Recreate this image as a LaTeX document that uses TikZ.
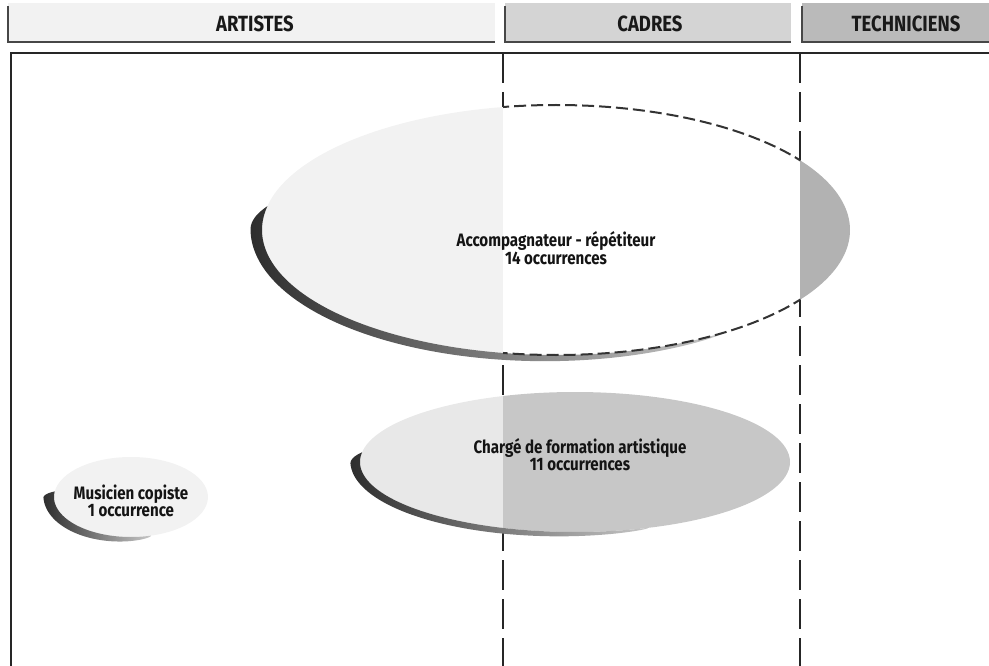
\documentclass[tikz,border=0pt]{standalone}
\usepackage{fontspec}
\newfontfamily\lblfont{Fira Sans}[FakeStretch=0.84]
% crescent shadow along the lower-left rim of an ellipse
% #1,#2 centre; #3,#4 radii; #5 max thickness; #6 start angle; #7 end angle
\newcommand\drawcrescent[7]{%
  \shade[left color=black!82, right color=black!22]
    plot[domain=0:1, samples=120, variable=\s]
      ({#1+(#3+crw(\s,#5))*cos(#6+(#7-#6)*\s)},
       {#2+(#4+crw(\s,#5))*sin(#6+(#7-#6)*\s)})
    -- plot[domain=0:1, samples=120, variable=\s]
      ({#1+#3*cos(#7+(#6-#7)*\s)},
       {#2+#4*sin(#7+(#6-#7)*\s)})
    -- cycle;}
\begin{document}
\begin{tikzpicture}[x=1pt,y=-1pt,
  declare function={crw(\s,\W)=\W*sin(90*min(1,\s/0.08))*sqrt(max(0,1-\s));},
  hdrtext/.style={font=\lblfont\bfseries\fontsize{22}{22}\selectfont, text=black!90, inner sep=0pt},
  elltext/.style={font=\lblfont\bfseries\fontsize{18}{16}\selectfont, align=center, text=black!92, inner sep=0pt},
  hdrrule/.style={line width=2.6pt, draw=black!72},
  colrule/.style={line width=1.3pt, draw=black!85, dash pattern=on 30pt off 9pt},
  frame/.style={line width=1.4pt, draw=black!85},
  ovaldash/.style={line width=2pt, draw=black!80, dash pattern=on 12pt off 5pt}
]
\useasboundingbox (0,0) rectangle (989,666);

% ---- column headers ----
\fill[black!5]  (8,3)   rectangle (495,42);
\fill[black!17] (505,3) rectangle (791,42);
\fill[black!27] (802,3) rectangle (989,42);
\draw[hdrrule] (8,6)   -- (8,42)   -- (495,42);
\draw[hdrrule] (505,6) -- (505,42) -- (791,42);
\draw[hdrrule] (802,6) -- (802,42) -- (989,42);
\node[hdrtext] (artistes)    at (255,24) {ARTISTES};
\node[hdrtext] (cadres)      at (650,24) {CADRES};
\node[hdrtext] (techniciens) at (906,24) {TECHNICIENS};

% ---- frame and column separators ----
\draw[frame] (11,666) -- (11,53) -- (989,53);
\coordinate (sepAtop) at (503,53);
\coordinate (sepAbot) at (503,666);
\coordinate (sepBtop) at (800,53);
\coordinate (sepBbot) at (800,666);
\draw[colrule] (sepAtop) -- (sepAbot);
\draw[colrule] (sepBtop) -- (sepBbot);

% ---- Accompagnateur - repetiteur ----
\begin{scope}
  \clip (0,0) rectangle (503,666);
  \fill[black!5] (556,230) ellipse [x radius=294, y radius=125];
\end{scope}
\begin{scope}
  \clip (503,0) rectangle (800,666);
  \fill[white] (556,230) ellipse [x radius=294, y radius=125];
\end{scope}
\begin{scope}
  \clip (800,0) rectangle (989,666);
  \fill[black!30] (556,230) ellipse [x radius=294, y radius=125];
\end{scope}
\drawcrescent{556}{230}{294}{125}{12}{191}{55}
\begin{scope}
  \clip (503,0) rectangle (800,666);
  \draw[ovaldash] (556,230) ellipse [x radius=294, y radius=125];
\end{scope}
\node[elltext] (accomp) at (556,248) {Accompagnateur - répétiteur\\14 occurrences};

% ---- Charge de formation artistique ----
\begin{scope}
  \clip (0,0) rectangle (503,666);
  \fill[black!9] (575,462) ellipse [x radius=215, y radius=70];
\end{scope}
\begin{scope}
  \clip (503,0) rectangle (989,666);
  \fill[black!22] (575,462) ellipse [x radius=215, y radius=70];
\end{scope}
\drawcrescent{575}{462}{215}{70}{10}{188}{70}
\node[elltext] (charge) at (580,455) {Chargé de formation artistique\\11 occurrences};

% ---- Musicien copiste ----
\fill[black!5] (131,497) ellipse [x radius=77, y radius=40];
\drawcrescent{131}{497}{77}{40}{11}{188}{75}
\node[elltext] (musicien) at (131,501) {Musicien copiste\\1 occurrence};
\end{tikzpicture}
\end{document}
